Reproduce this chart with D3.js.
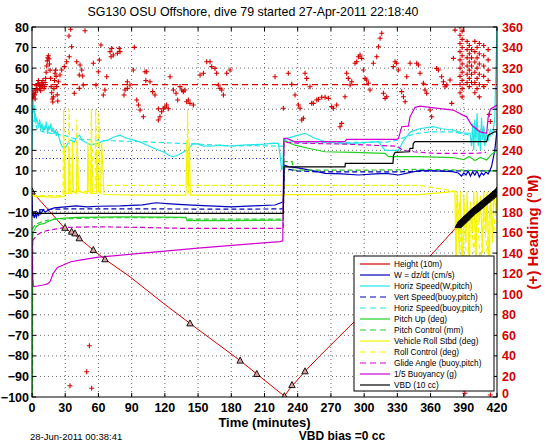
<!DOCTYPE html>
<html><head><meta charset="utf-8">
<script src="https://cdn.jsdelivr.net/npm/d3@7"></script>
<style>body{margin:0;background:#fff} svg{display:block;font-family:"Liberation Sans",Arial,sans-serif}</style>
</head><body><svg id="c" width="546" height="442"></svg>
<script>
// ---------- tick labels ----------
const xTickVals = [0,30,60,90,120,150,180,210,240,270,300,330,360,390,420];
const yTickVals = [80,70,60,50,40,30,20,10,0,-10,-20,-30,-40,-50,-60,-70,-80,-90,-100];
const headingTickVals = [0,20,40,60,80,100,120,140,160,180,200,220,240,260,280,300,320,340,360];
const titleText = "SG130 OSU Offshore, dive 79 started 27-Apr-2011 22:18:40";
const xLabel = "Time (minutes)";
const yRightLabel = "(+) Heading (\u00B0M)";
const dateText = "28-Jun-2011 00:38:41";
const biasText = "VBD bias =0 cc";
const legendNames = ["Height (10m)","W = dz/dt (cm/s)","Horiz Speed(W,pitch)","Vert Speed(buoy,pitch)","Horiz Speed(buoy,pitch)","Pitch Up (deg)","Pitch Control (mm)","Vehicle Roll Stbd (deg)","Roll Control (deg)","Glide Angle (buoy,pitch)","1/5 Buoyancy (g)","VBD (10 cc)"];

// ---------- series data: [time (min), value] ----------
const height = [[0,0],[28.3,-17.2],[42.7,-22.8],[55.4,-28.5],[65.9,-33],[88.5,-41.5],[118.6,-54.4],[142.7,-64.2],[188,-82.3],[203,-88.8],[228,-99.6],[233,-95.8],[246.6,-87.5],[260,-80],[288,-65],[320,-49],[359.5,-31.5],[383.6,-17.2],[400,-9],[420,0.5]];
const heightMarks = [[0,0],[29.8,-17.7],[35.8,-19.6],[38.8,-20.4],[42.7,-22.8],[55.4,-28.5],[65.9,-33],[142.7,-64.2],[188,-82.3],[203,-88.8],[228,-99.6],[234.8,-94.2],[246.6,-87.5]];
const heightMarksEnd = [[385,-16.4],[386,-15.8],[387,-15.3],[388,-14.8],[389,-14.3],[390,-13.8],[391,-13.3],[392,-12.8],[393,-12.3],[394,-11.7],[395,-11.2],[396,-10.7],[397,-10.2],[398,-9.7],[399,-9.3],[400,-8.9],[401,-8.5],[402,-8],[403,-7.6],[404,-7.1],[405,-6.7],[406,-6.2],[407,-5.8],[408,-5.3],[409,-4.9],[410,-4.4],[411,-4],[412,-3.5],[413,-3.1],[414,-2.6],[415,-2.2],[416,-1.7],[417,-1.3],[418,-0.8],[419,-0.4],[420,0.5]];
const wSpeed = [[0,-2],[0.5,-12],[1,-10],[2,-13],[3,-11],[4,-12.5],[5,-10],[6,-12],[7,-9.5],[8,-11],[10,-9],[12,-10],[15,-9],[20,-8],[30,-7.5],[40,-7],[50,-7.5],[60,-7.2],[80,-7],[100,-6.5],[112,-5.5],[125,-6],[140,-6.5],[160,-7],[180,-7.5],[200,-7],[219.5,-6.6],[227,-5],[228,12.8],[232,12],[240,11.5],[250,10.5],[265,8.8],[280,8.5],[295,8],[310,8.5],[320,8.8],[331,8],[340,9],[350,10.2],[365,10],[380,9.6],[385,9],[388,7.5],[390,9],[392,8],[394,10],[396,7.5],[398,9.5],[400,8],[402,10],[404,7],[406,9],[408,8],[410,9.5],[412,8.5],[415,12],[418,20],[420,30]];
const vertSpeedBuoy = [[0,-10],[3,-10],[6,-9],[10,-8.8],[30,-8.5],[100,-8.5],[180,-8.6],[227,-8.5],[228,11],[240,10],[260,9.5],[300,9.5],[330,9.5],[360,10],[400,10],[415,10]];
const wTarget = [[0,16],[227,16]];
const horizSpeed = [[0,20],[0.5,40],[1,45],[1.5,38],[2,42],[2.5,35],[3,38],[3.5,33],[4,36],[5,34],[6,31],[7,35],[8,30],[9,33],[10,29],[11,32],[12,30],[13,34],[14,28],[15,32],[16,30],[17,33],[18,29],[19,31],[20,28],[21,30],[22,27],[23,29],[25,25],[27,22],[29,21],[31,22],[33,24],[35,25],[38,24],[41,26.6],[43,27.4],[45,25],[47.6,24.2],[50,23.5],[53.6,22.6],[56,23],[59.6,23.4],[64,24.5],[68.6,25],[74,26.5],[79.5,27.4],[85,26],[92,25],[98,24],[103.6,22.6],[110,21],[118.6,19.3],[124,17.5],[127.6,16.9],[133,18],[139.7,20.1],[145.7,23.4],[150,23],[155,22],[163.8,22.1],[170,22.5],[178.8,22.1],[190,22.5],[200,22.8],[210,23],[218,23.5],[222.5,23.4],[224,18],[225.5,10.4],[226.5,12],[227.5,25],[230,25.8],[238,27],[246.6,28.3],[255,26],[264.6,24.2],[275,23.5],[282.7,23.4],[295,23.5],[305,24],[312.8,24.2],[316,22],[318.9,20],[330.9,20],[336,25],[342,29],[350,30.5],[362.5,31.5],[370,30.5],[380.5,29.9],[388,28.5],[395.6,28.3],[397,22],[398,33],[399,20],[400,35],[401,24],[402,38],[403,22],[404,30],[405,20],[406,36],[407,25],[408,32],[409,22],[410,28],[412,25],[414,30],[416,28],[418,35],[419,60],[420,80]];
const horizSpeedBuoy = [[0,30],[2,35],[5,30],[10,29],[20,28],[28,27.4],[40,25.5],[58,24.9],[80,24.5],[100,24.2],[150,23],[180,22.1],[200,22.3],[227,22],[228,25],[240,24],[280,23.8],[320,24],[330,25],[345,28],[360,29],[380,29],[400,27],[415,27]];
const pitchUp = [[0,-100],[0.3,-40],[0.6,-20],[2,-19],[4,-17],[7,-16],[11.4,-15.5],[15,-14.5],[20,-13.5],[26.5,-13.1],[40,-12.6],[80,-12.4],[120,-12.5],[139,-12.6],[140,-14.2],[180,-14.2],[227,-14],[227.5,24.2],[230,24.2],[237.5,22.5],[249.6,21],[264.6,19.3],[290,19],[318.9,18.5],[322,16.9],[340,17],[350.5,16.9],[380,16.5],[390,15.5],[395,17],[400,15],[405,16.5],[410.7,15.3],[415,18],[420,20]];
const pitchControl = [[0,-100],[0.5,-100],[0.7,-18],[3,-16],[10,-14.5],[20,-13.5],[60,-12.8],[140,-12.8],[141,-13.5],[227,-13.5],[227.5,14.5],[235,14.5],[236,10.4],[300,10.4],[330,10.5],[350,10.8],[380,10.5],[410,10],[420,10]];
const vehicleRoll = [[0,-1],[2,-2.5],[10,-2.5],[20,-2.8],[29,-2.5],[29.5,22],[30.5,-1],[33,-1],[33.5,21],[34.5,-1],[36,-1],[36.5,24],[37.5,0],[40,-1],[41,22],[42,0],[50,-1],[50.5,24],[51.5,0],[53,-1],[53.5,23],[54.5,-1],[58,-1],[58.5,20],[60,0],[62,-1],[63,24],[65,-1.5],[100,-1.8],[139,-1.8],[140,25],[141,-1],[142,24],[143,-1.8],[200,-1.8],[226,-1.8],[228,-1.5],[300,-1.5],[350,-1.5],[382,0],[383,-40],[384,0],[386,-30],[387,0],[389,-45],[390,-2],[392,-25],[393,0],[395,-40],[396,-5],[398,-20],[399,0],[401,-35],[402,0],[404,-15],[405,-2],[407,-30],[408,0],[410,-20],[411,0],[413,-45],[414,0],[416,-25],[417,0],[419,-10],[420,0]];
const rollControl = [[0,-2],[28,-2],[28.5,40],[29.5,-1],[33,-1],[33.5,40],[34.5,0],[40,0],[40.5,35],[41.5,0],[53,0],[53.5,40],[55,0],[57,0],[57.5,40],[58.5,2],[60,2],[60.5,38],[61.5,3],[65,3],[140,3],[140.5,40],[141.5,3],[228,3],[350,3],[383,0],[384,-20],[386,-5],[388,-35],[390,-10],[393,-40],[396,-8],[399,-30],[402,-5],[405,-38],[408,-10],[411,-30],[414,-5],[417,-20],[420,0]];
const glideAngle = [[0,-24],[1,-23.6],[5,-21],[10,-19.5],[16,-18.8],[30,-17.5],[60,-17.2],[100,-17.5],[140,-18],[180,-18],[227,-18],[227.5,24],[240,23.5],[284,23],[330,22],[335,20],[345,19.3],[365,18.5],[400,18.5],[410,19]];
const buoyancy = [[0,-24],[0.5,-40],[1.2,-46.3],[5,-46],[10.2,-45.5],[14,-45],[16.3,-43.9],[19.3,-39.8],[23,-37],[28.3,-35.8],[35,-34.2],[43.4,-33.4],[58.4,-32.1],[100,-30],[150,-27.6],[200,-25.4],[224,-24.4],[226.5,-24],[227.5,25.8],[230,25.8],[237.5,24.2],[282.7,24.2],[284,25.3],[329.4,25.3],[331,25.8],[334,31.5],[340,31.8],[341.4,36.3],[346,40.9],[350.5,41.5],[365,40.5],[380.5,39.6],[389.6,37],[392.6,36.3],[397,32.3],[404.7,29],[410.7,28.3],[412,36],[414,40],[420,42]];
const vbd = [[0,-10.7],[227,-10.7],[227.5,12],[282.7,12],[283,13.7],[326,13.7],[326.5,17.5],[328,19],[341,19.3],[341.4,21],[344,21],[344.4,23.4],[346,24.2],[410.7,24.2],[412,27.4],[418,29],[420,29]];
// heading target (deg) and measured heading points [time, heading deg]
const headingTarget = [[0,304],[420,304]];
const headingPts = [
[0.3,290],[0.8,295],[1.3,292],[1.8,298],[2.3,294],[2.8,290],[3.3,296],[3.8,300],[4.3,303],[4.8,299],[5.3,305],[5.8,308],[6.3,304],[6.8,300],[7.3,303],[7.8,298],[8.3,302],[8.8,306],[9.3,303],[9.8,308],[10.3,304],[10.8,300],[11.3,302],[11.8,306],[12.3,310],[12.8,316],[13.3,322],[13.8,327],[14.3,330],[14.8,332],[15.3,329],[15.8,324],[16.3,318],[16.8,310],[17.3,302],[17.8,296],[18.3,290],[18.8,287],[19.3,292],[19.8,300],[20.3,308],[20.8,315],[21.3,318],[21.8,312],[22.3,302],[22.8,294],[23.3,288],
[34.9,357.8],[33.4,351.2],[47.9,356.4],[35.8,340.8],[33.7,331.1],[31.3,326.2],[29.2,321.4],[26.8,318.2],[25.3,313.3],[23.8,306.8],[40.4,326.2],[43.4,323],[44.9,318.2],[42.7,313.3],[38.2,295.5],[42.7,300.3],[46.3,303.6],[45.8,312.3],[55.4,324.7],[62.3,342.5],[60.8,327.9],[59.9,316.5],[57.8,303.6],[67.5,311.6],[65.9,298.7],[64.4,293.8],[72,339.2],[70.5,336],[77.1,334.4],[79.5,336],[78.8,339.2],[71.4,331.1],[73.4,332.7],[86.1,306.8],[88.5,303.6],[86.1,300.3],[84,298.7],[83.1,293.8],[92.4,340.2],[91.5,318.2],[102.1,316.5],[103.6,316.5],[94.6,289],[96.1,284.1],[97.6,279.2],[100.6,272.7],[102.8,307.9],[106.6,306.8],[109,297.1],[111.1,293.8],[114.1,280.4],[115.6,272.7],[114.1,269.5],[117.1,277.6],[118.6,280.4],[120.1,282],[121.6,284.1],[123.1,280.4],[124.7,311.6],[127.7,298.7],[130.1,295.5],[131.6,289],[133.7,302],[135.2,298.7],[136.7,297.1],[138.2,298.7],[139.7,287.3],[141.2,289],[142.7,285.7],[145.7,284.1],[151.8,313.3],[154.8,315],[157.8,326.2],[160.8,326.2],[162.3,321.4],[165.3,319.7],[166.8,315],[168.3,303.6],[169.8,300.3],[171.4,298.7],[172.9,293.8],[175.9,315],[178.9,318.2],
[219.5,311.6],[227,280.9],[231.5,315],[234.6,304.2],[237.6,293.8],[240.6,284.1],[242.1,280.9],[243.6,269.5],[245.1,271.2],[246.6,315],[248.1,310],[251.1,301.9],[252.6,285.7],[254.1,285.7],[257.2,289],[258.7,289.7],[261.7,291.7],[264.7,291.7],[267.7,290.6],[270.7,282.5],[272.2,280.9],[275.2,284.1],[278.2,263],[279.7,266.2],[282.7,292.2],[284.2,315],[285.7,310],[287.3,303.6],[288.8,306.8],[291.8,324.7],[293.3,326.2],[294.8,331.1],[296.3,332.7],[297.8,329.5],[299.3,318.2],[300.8,310],[302.3,308.4],[303.8,305.2],[305.3,298.7],[308.3,324.7],[311.4,331.1],[312.9,340.8],[314.4,349],[315.9,353.9],[317.4,295.5],[318.9,290.6],[320.4,292.2],[326.4,321.4],[327.9,326.2],[329.4,324.7],[330.9,318.2],[333.9,297.1],[335.5,292.2],[337,287.3],[338.5,311.6],[341.5,324.7],[347.5,324.7],[349,323],[350.5,315],[353.5,305.2],[355,298.7],[356.5,295.5],[359.5,279.2],[361,272.7],[365.5,319.7],[367,318.2],[370,311.6],[371.6,306.8],[373.1,301.9],[374.6,303.6],[377.6,308.4],[379.1,285.7],[380.6,329.5],[382.1,357],
[386.6,360],[386.6,352],[386.6,344],[386.6,336],[386.6,328],[386.6,320],[386.6,312],[386.6,304],[386.6,296],[388.5,356],[388.5,348],[388.5,340],[388.5,332],[388.5,324],[388.5,316],[388.5,308],[388.5,300],[388.5,292],
[393,346],[393,338],[393,330],[393,322],[393,314],[393,306],[395,342],[395,334],[395,326],[395,318],[395,310],[395,302],[397,338],[397,330],[397,322],[397,314],[397,306],
[400,346],[400,336],[400,326],[400,316],[400,306],[400,296],[402,340],[402,330],[402,320],[402,310],[402,300],[404,344],[404,334],[404,324],[404,314],[404,304],[404,292],
[408,342],[408,332],[408,322],[408,312],[408,302],[412,338],[412,328],[412,318],[412,308],[413,275],[414,268],
[34.3,11],[49.4,24.6],[51.8,49.9],[53.9,8.5],[391,3.6],[414,2]];

// ---------- layout ----------
const svg = d3.select("#c");
const L = 32, R = 497, T = 27, B = 397;
const x = d3.scaleLinear().domain([0,420]).range([L,R]);
const y = d3.scaleLinear().domain([-100,80]).range([B,T]);
const yH = d3.scaleLinear().domain([0,360]).range([B,T]);
const C = {red:"#d40000", blue:"#0000b8", cyan:"#22e6e6", green:"#22d022", yellow:"#f5f500", magenta:"#d000d0", black:"#000"};

svg.append("rect").attr("x",0).attr("y",0).attr("width",546).attr("height",442).attr("fill","#fff");
svg.append("clipPath").attr("id","clip").append("rect").attr("x",L).attr("y",T).attr("width",R-L).attr("height",B-T);

// grid
const grid = svg.append("g");
grid.selectAll(".gx").data(xTickVals.slice(1,-1)).enter().append("line")
  .attr("x1",d=>x(d)).attr("x2",d=>x(d)).attr("y1",T).attr("y2",B)
  .attr("stroke","#444").attr("stroke-width",0.8).attr("stroke-dasharray","1,3");
grid.selectAll(".gy").data(yTickVals.slice(1,-1)).enter().append("line")
  .attr("y1",d=>y(d)).attr("y2",d=>y(d)).attr("x1",L).attr("x2",R)
  .attr("stroke","#444").attr("stroke-width",0.8).attr("stroke-dasharray","1,3");

const plot = svg.append("g").attr("clip-path","url(#clip)");
const line = d3.line().x(d=>x(d[0])).y(d=>y(d[1]));
const lineH = d3.line().x(d=>x(d[0])).y(d=>yH(d[1]));

// heading (right axis)
plot.append("path").attr("d",lineH(headingTarget)).attr("fill","none").attr("stroke",C.red).attr("stroke-width",1.2).attr("stroke-dasharray","6,4");
plot.selectAll(".hp").data(headingPts).enter().append("path")
  .attr("transform",d=>`translate(${x(d[0])},${yH(d[1])})`)
  .attr("d","M-2.5,0H2.5M0,-2.5V2.5").attr("stroke",C.red).attr("stroke-width",1.1);

const series = [
  {d:height,c:C.red,w:1},
  {d:wSpeed,c:C.blue,w:1.2},
  {d:horizSpeed,c:C.cyan,w:1.2},
  {d:vertSpeedBuoy,c:C.blue,w:1.2,dash:"5,3"},
  {d:horizSpeedBuoy,c:C.cyan,w:1.2,dash:"5,3"},
  {d:pitchUp,c:C.green,w:1.2},
  {d:pitchControl,c:C.green,w:1.2,dash:"5,3"},
  {d:vehicleRoll,c:C.yellow,w:1.2},
  {d:rollControl,c:C.yellow,w:1.2,dash:"5,3"},
  {d:glideAngle,c:C.magenta,w:1.2,dash:"5,3"},
  {d:buoyancy,c:C.magenta,w:1.2},
  {d:vbd,c:C.black,w:1.2}
];
plot.append("path").attr("d",line(wTarget)).attr("fill","none").attr("stroke",C.blue).attr("stroke-width",1).attr("stroke-dasharray","1,2.5");
series.forEach(s=>{
  plot.append("path").attr("d",line(s.d)).attr("fill","none").attr("stroke",s.c)
    .attr("stroke-width",s.w).attr("stroke-dasharray",s.dash||null);
});
// markers on height
plot.selectAll(".hm").data(heightMarks).enter().append("path")
  .attr("transform",d=>`translate(${x(d[0])},${y(d[1])})`)
  .attr("d","M0,-3.5L3.2,2.5L-3.2,2.5Z").attr("fill","#d9a0a0").attr("stroke","#000").attr("stroke-width",0.9);
plot.selectAll(".hme").data(heightMarksEnd).enter().append("path")
  .attr("transform",d=>`translate(${x(d[0])},${y(d[1])})`)
  .attr("d","M0,-3.5L3.2,2.5L-3.2,2.5Z").attr("fill","#222").attr("stroke","#000").attr("stroke-width",0.9);

// axes box
svg.append("rect").attr("x",L).attr("y",T).attr("width",R-L).attr("height",B-T).attr("fill","none").attr("stroke","#000").attr("stroke-width",1);

const fnt = '"Liberation Sans",Arial,sans-serif';
// left axis
const ax = svg.append("g").attr("font-family",fnt).attr("font-weight","bold").attr("font-size",12.5);
ax.selectAll(".yl").data(yTickVals).enter().append("text")
  .attr("x",L-3).attr("y",d=>y(d)+4.5).attr("text-anchor","end").text(d=>d<0?"\u2212"+(-d):d);
ax.selectAll(".yt").data(yTickVals).enter().append("line")
  .attr("x1",L).attr("x2",L+4).attr("y1",d=>y(d)).attr("y2",d=>y(d)).attr("stroke","#000");
ax.selectAll(".xl").data(xTickVals).enter().append("text")
  .attr("x",d=>x(d)).attr("y",B+15).attr("text-anchor","middle").text(d=>d);
ax.selectAll(".xt").data(xTickVals).enter().append("line")
  .attr("x1",d=>x(d)).attr("x2",d=>x(d)).attr("y1",B).attr("y2",B-4).attr("stroke","#000");
ax.selectAll(".xt2").data(xTickVals).enter().append("line")
  .attr("x1",d=>x(d)).attr("x2",d=>x(d)).attr("y1",T).attr("y2",T+4).attr("stroke","#000");
// right axis
ax.selectAll(".hl").data(headingTickVals).enter().append("text")
  .attr("x",R+5).attr("y",d=>yH(d)+(d===0?0.5:4.5)).attr("fill",C.red).text(d=>d);
ax.selectAll(".ht").data(headingTickVals).enter().append("line")
  .attr("x1",R).attr("x2",R-4).attr("y1",d=>yH(d)).attr("y2",d=>yH(d)).attr("stroke","#000");
ax.append("text").attr("transform","translate(538,232) rotate(-90)").attr("text-anchor","middle")
  .attr("fill",C.red).attr("font-size",15).text(yRightLabel);
ax.append("text").attr("x",(L+R)/2).attr("y",B+30).attr("text-anchor","middle").attr("font-size",13).text(xLabel);
ax.append("text").attr("x",342).attr("y",439.5).attr("text-anchor","middle").attr("font-size",12).text(biasText);
svg.append("text").attr("x",30).attr("y",439.5).attr("font-family",fnt).attr("font-size",9.5).text(dateText);
svg.append("text").attr("x",253).attr("y",16).attr("text-anchor","middle").attr("font-family",fnt).attr("font-size",12.4).text(titleText);

// legend
const lg = svg.append("g").attr("font-family",fnt).attr("font-size",8.3);
lg.append("rect").attr("x",354).attr("y",256).attr("width",140).attr("height",135).attr("fill","#fff").attr("stroke","#000");
legendNames.forEach((n,i)=>{
  const s = series[i], yy = 264 + i*11;
  lg.append("line").attr("x1",360).attr("x2",390).attr("y1",yy).attr("y2",yy)
    .attr("stroke",s.c).attr("stroke-width",1.2).attr("stroke-dasharray",s.dash?"6,4":null);
  lg.append("text").attr("x",394).attr("y",yy+3).text(n);
});
</script></body></html>
